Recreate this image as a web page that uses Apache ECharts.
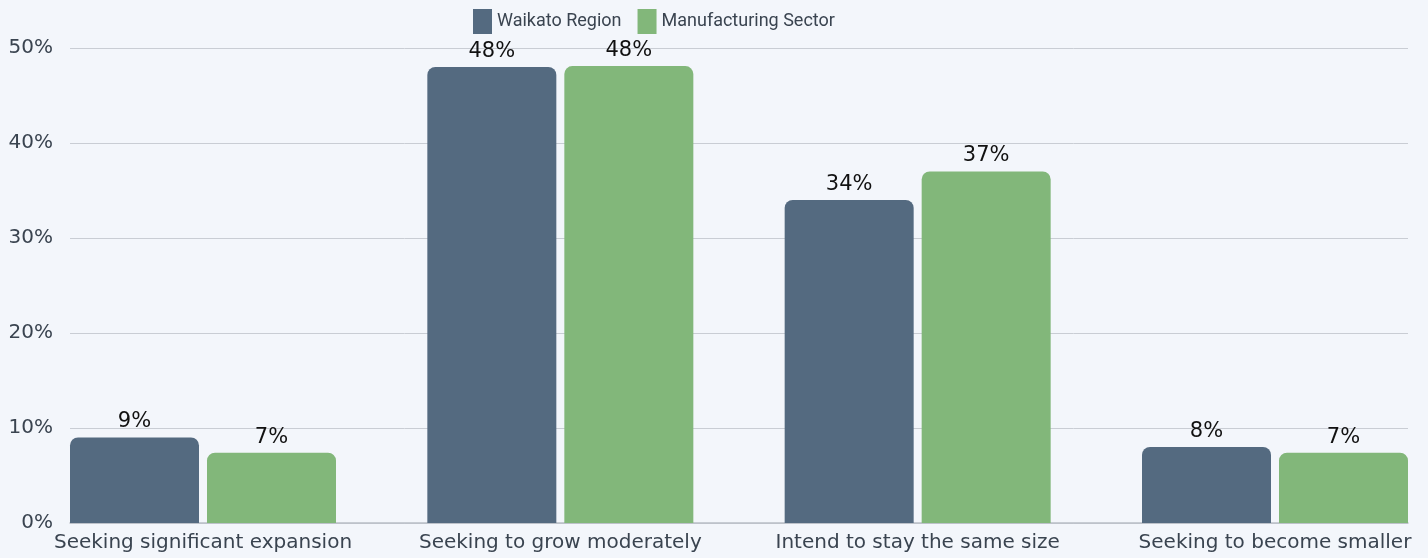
<!DOCTYPE html>
<html><head><meta charset="utf-8">
<style>html,body{margin:0;padding:0;background:#f3f6fb;}#c{width:1428px;height:558px;}</style>
<script src="https://cdn.jsdelivr.net/npm/echarts@6/dist/echarts.min.js"></script>
</head><body><div id="c"></div>
<script>
const categories = ['Seeking significant expansion','Seeking to grow moderately','Intend to stay the same size','Seeking to become smaller'];
const waikato = [9.0, 48.0, 34.0, 8.0];
const manufacturing = [7.4, 48.1, 37.0, 7.4];
const seriesNames = ['Waikato Region','Manufacturing Sector'];
const yTicks = [0, 10, 20, 30, 40, 50];

const FONT = 'DejaVu Sans';
const chart = echarts.init(document.getElementById('c'), null, {renderer:'canvas'});
const labelCfg = {show:true, position:'top', distance:5, color:'#111', fontSize:21, fontFamily:FONT,
  formatter: p => Math.round(p.value) + '%'};
chart.setOption({
  backgroundColor:'#f3f6fb',
  animation:false,
  legend:{top:9, left:473, padding:0, itemWidth:19, itemHeight:25, itemGap:16,
    textStyle:{fontSize:18, color:'#3a4450', fontFamily:'Roboto'},
    data:seriesNames, icon:'rect'},
  grid:[
    {left:70, right:20, top:48, bottom:35},
    {left:203, right:153, top:48, bottom:35}
  ],
  xAxis:[
    {gridIndex:0, type:'value', min:0, max:1, show:true, axisLabel:{show:false}, axisTick:{show:false}, splitLine:{show:false},
      axisLine:{show:true, lineStyle:{color:'#b9bec6', width:1.5}}},
    {gridIndex:1, type:'category', data:categories, boundaryGap:false,
      axisLine:{show:false}, axisTick:{show:false},
      axisLabel:{margin:10, fontSize:20, color:'#3a4450', fontFamily:FONT, interval:0}}
  ],
  yAxis:[
    {gridIndex:0, type:'value', min:yTicks[0], max:yTicks[yTicks.length-1], interval:10,
      axisLine:{show:false}, axisTick:{show:false},
      axisLabel:{formatter:'{value}%', margin:17, fontSize:20, color:'#3a4450', fontFamily:FONT},
      splitLine:{lineStyle:{color:'#c9cdd4', width:1}}},
    {gridIndex:1, type:'value', min:yTicks[0], max:yTicks[yTicks.length-1], show:false, splitLine:{show:false}}
  ],
  series:[
    {name:seriesNames[0], type:'bar', xAxisIndex:1, yAxisIndex:1, data:waikato, barWidth:129, barGap:'6.2%',
      itemStyle:{color:'#546a80', borderRadius:[8,8,0,0]}, label:labelCfg},
    {name:seriesNames[1], type:'bar', xAxisIndex:1, yAxisIndex:1, data:manufacturing, barWidth:129, barGap:'6.2%',
      itemStyle:{color:'#82b77a', borderRadius:[8,8,0,0]}, label:labelCfg}
  ]
});
</script></body></html>
